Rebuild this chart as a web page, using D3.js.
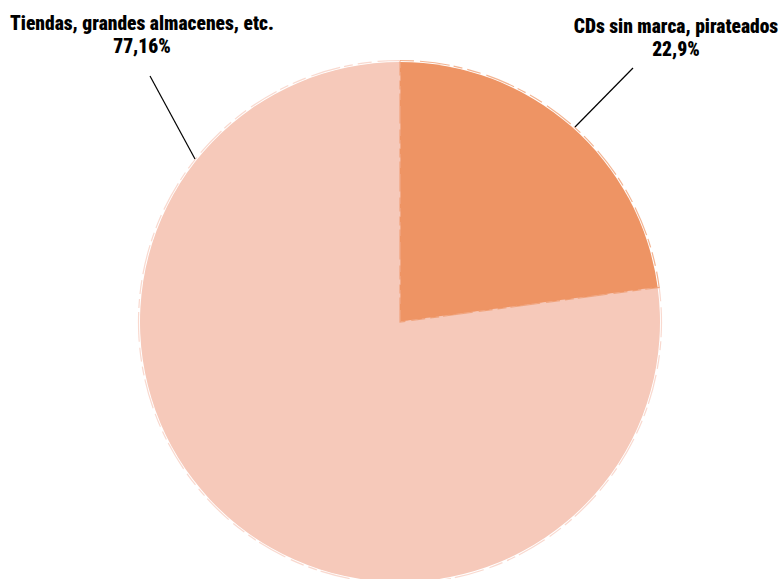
<!DOCTYPE html>
<html><head><meta charset="utf-8">
<script src="https://cdn.jsdelivr.net/npm/d3@7"></script>
<style>
html,body{margin:0;padding:0;background:#fff;}
svg{display:block;}
text{font-family:"Liberation Sans Narrow","Roboto Condensed","Liberation Sans",sans-serif;font-weight:900;fill:#000;}
</style></head>
<body>
<svg id="chart" width="779" height="579"></svg>
<script>
const categories = ["CDs sin marca, pirateados", "Tiendas, grandes almacenes, etc."];
const values = [22.9, 77.16];
const valueLabels = ["22,9%", "77,16%"];
const colors = ["#EE9464", "#F6C9BA"];

const W = 779, H = 579;
const cx = 400, cy = 322, R = 260;
const svg = d3.select("#chart");
const g = svg.append("g").attr("transform", `translate(${cx},${cy})`);

const pie = d3.pie().sort(null).value(d => d.v);
const data = categories.map((c, i) => ({c, v: values[i], lab: valueLabels[i], col: colors[i]}));
const arcs = pie(data);
const arc = d3.arc().innerRadius(0).outerRadius(R);

const order = [1, 0];
order.forEach(i => {
  const a = arcs[i];
  g.append("path").attr("d", arc(a)).attr("fill", a.data.col);
});
// subtle sketchy edges
const arc2 = d3.arc().innerRadius(0).outerRadius(R + 1.5);
order.forEach(i => {
  const a = arcs[i];
  g.append("path").attr("d", arc2(a)).attr("fill", "none")
    .attr("stroke", a.data.col).attr("stroke-width", 1.2).attr("stroke-opacity", 0.7)
    .attr("stroke-dasharray", "14 6 30 4 9 5");
});

const labelPos = [
  {inner: [575 - cx, 127 - cy], outer: [633 - cx, 68 - cy], tx: 676, ty: [33, 56]},
  {inner: [195 - cx, 159 - cy], outer: [150 - cx, 76 - cy], tx: 142, ty: [30, 53]}
];
arcs.forEach((a, i) => {
  const p = labelPos[i];
  g.append("line")
    .attr("x1", p.inner[0]).attr("y1", p.inner[1])
    .attr("x2", p.outer[0]).attr("y2", p.outer[1])
    .attr("stroke", "#000").attr("stroke-width", 1.2);
  const t = svg.append("text").attr("text-anchor", "middle").attr("font-size", 19.5);
  t.append("tspan").attr("x", p.tx).attr("y", p.ty[0]).text(a.data.c);
  t.append("tspan").attr("x", p.tx).attr("y", p.ty[1]).text(a.data.lab);
});
</script>
</body></html>
